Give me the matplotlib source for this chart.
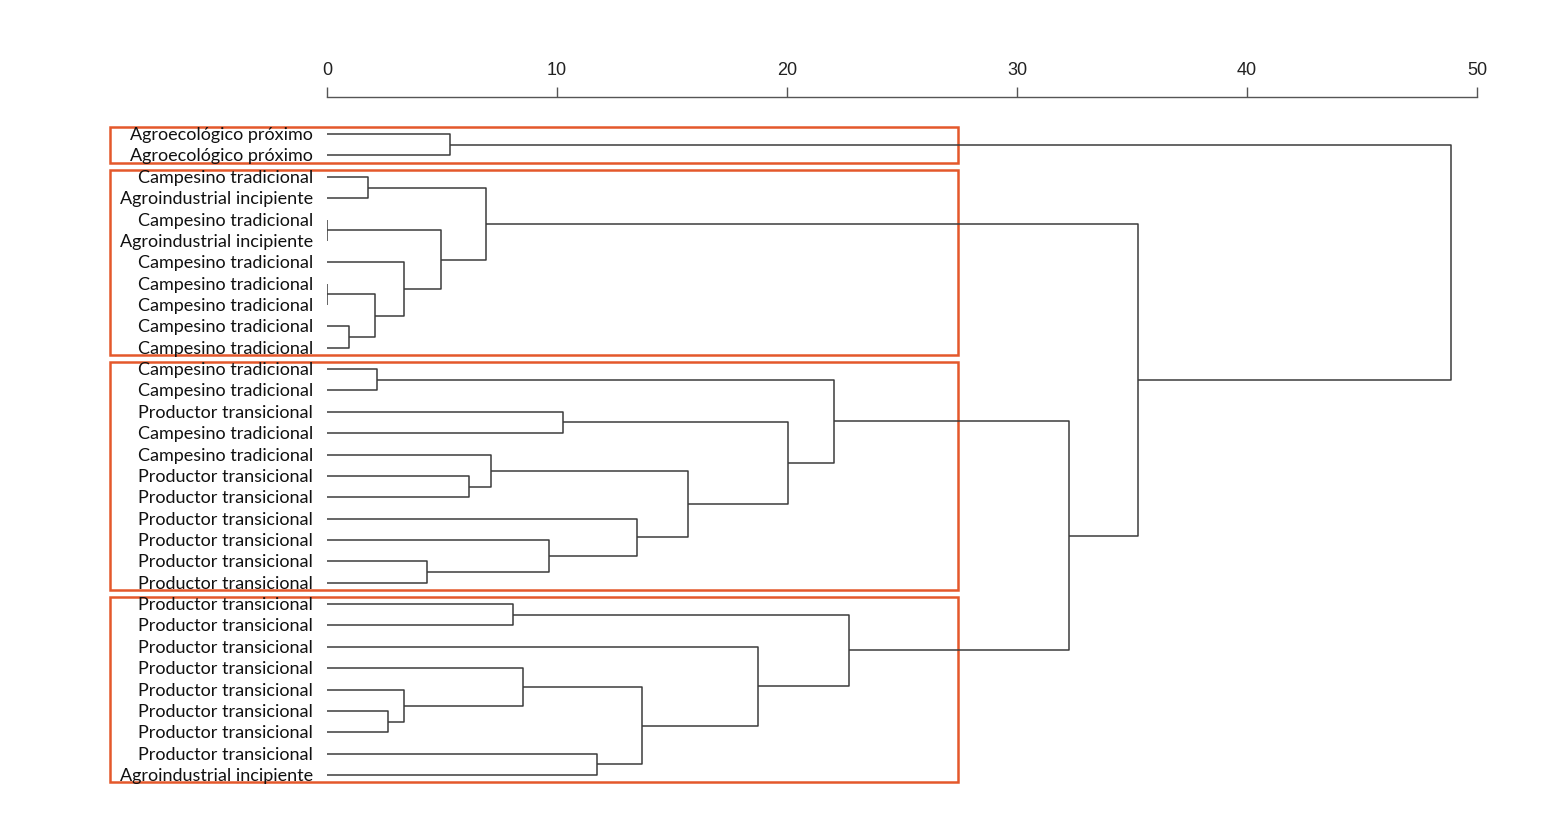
import matplotlib.pyplot as plt
from matplotlib.patches import Rectangle

# 1. Data: leaf labels (top to bottom) and the merge table of the dendrogram
labels = [
    'Agroecológico próximo', 'Agroecológico próximo',
    'Campesino tradicional', 'Agroindustrial incipiente', 'Campesino tradicional',
    'Agroindustrial incipiente', 'Campesino tradicional', 'Campesino tradicional',
    'Campesino tradicional', 'Campesino tradicional', 'Campesino tradicional',
    'Campesino tradicional', 'Campesino tradicional', 'Productor transicional',
    'Campesino tradicional', 'Campesino tradicional', 'Productor transicional',
    'Productor transicional', 'Productor transicional', 'Productor transicional',
    'Productor transicional', 'Productor transicional',
    'Productor transicional', 'Productor transicional', 'Productor transicional',
    'Productor transicional', 'Productor transicional', 'Productor transicional',
    'Productor transicional', 'Productor transicional', 'Agroindustrial incipiente',
]

# node ids < 31 are leaves, ids >= 31 are earlier merges (31 = first merge, ...)
merge_a = [4, 7, 9, 2, 32, 11, 27, 6, 26, 20, 31, 0, 16, 34, 15,
           22, 25, 19, 13, 29, 18, 47, 45, 24, 49, 36, 46, 56, 44, 42]
merge_b = [5, 8, 10, 3, 33, 12, 28, 35, 37, 21, 38, 1, 17, 41, 43,
           23, 39, 40, 14, 30, 48, 50, 51, 52, 53, 55, 54, 57, 58, 59]
merge_height = [0.0, 0.0, 0.96, 1.78, 2.09, 2.17, 2.65, 3.35, 3.35, 4.35,
                4.96, 5.35, 6.17, 6.9, 7.13, 8.09, 8.52, 9.65, 10.26, 11.74,
                13.48, 13.7, 15.7, 18.74, 20.04, 22.04, 22.7, 32.26, 35.26, 48.87]

# highlighted groups (first and last leaf of each box)
group_first = [0, 2, 11, 22]
group_last = [1, 10, 21, 30]

# 2. Figure set-up
fig = plt.figure(figsize=(15.52, 8.29), dpi=100)
ax = fig.add_axes([327 / 1552, 1 - 792 / 829, 1150 / 1552, (792 - 97.5) / 829])

n = len(labels)
pos = {i: float(i) for i in range(n)}
hgt = {i: 0.0 for i in range(n)}

line_col = '#3c3c3c'
for k, (a, b, h) in enumerate(zip(merge_a, merge_b, merge_height)):
    ax.plot([hgt[a], h, h, hgt[b]], [pos[a], pos[a], pos[b], pos[b]],
            color=line_col, lw=1.1, solid_capstyle='butt')
    pos[n + k] = (pos[a] + pos[b]) / 2
    hgt[n + k] = h

# leaf labels
for i, lab in enumerate(labels):
    ax.text(-0.6, i, lab, ha='right', va='center', fontsize=13,
            family=['Lato', 'DejaVu Sans'], color='#111111')

# orange boxes round the groups
for f, l in zip(group_first, group_last):
    ax.add_patch(Rectangle((-9.43, f - 0.33), 27.43 + 9.43, l - f + 0.68,
                           fill=False, edgecolor='#e4582b', lw=1.8, clip_on=False))

# 3. Axis on top
ax.set_xlim(0, 50)
ax.set_ylim(30.75, -1.76)
ax.xaxis.tick_top()
ax.set_xticks(range(0, 51, 10))
ax.set_yticks([])
for s in ['left', 'right', 'bottom']:
    ax.spines[s].set_visible(False)
ax.spines['top'].set_color('#555555')
ax.spines['top'].set_linewidth(1.0)
ax.tick_params(axis='x', direction='out', length=7, width=1.0, pad=6.5,
               labelsize=13, colors='#555555', labelcolor='#222222',
               labelfontfamily='Liberation Sans')

plt.savefig('out.png', dpi=100)
